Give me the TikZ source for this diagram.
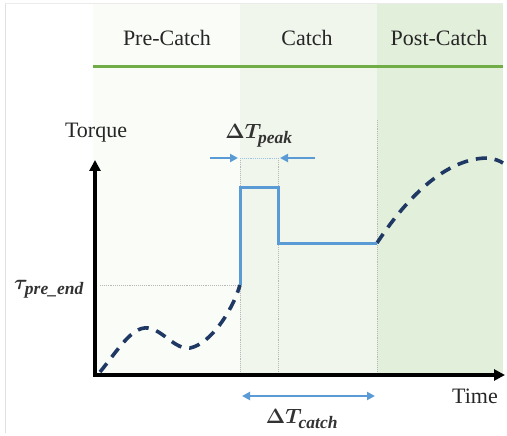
\documentclass[tikz,border=0pt]{standalone}
\usepackage{fontspec}
\setmainfont{Liberation Serif}
\usetikzlibrary{arrows.meta}
\definecolor{preBg}{HTML}{FAFCF7}
\definecolor{catchBg}{HTML}{F0F6EB}
\definecolor{postBg}{HTML}{E2EFDA}
\definecolor{phaseGreen}{HTML}{70AD47}
\definecolor{stepBlue}{HTML}{5B9BD5}
\definecolor{navy}{HTML}{1F3864}
\definecolor{guide}{HTML}{B8B8B8}
\newcommand{\subtxt}[1]{\mbox{\fontsize{17.5}{17}\selectfont\bfseries\itshape #1}}
\tikzset{
  lbl/.style={font=\fontsize{22}{26}\selectfont, text=black!85, inner sep=1pt},
  mlbl/.style={font=\fontsize{20}{24}\selectfont\boldmath, text=black!80, inner sep=1pt},
  guideline/.style={guide, densely dotted, line width=0.9pt},
  axisline/.style={line width=3.2pt, -{Triangle[length=11pt,width=11pt]}},
  bluestep/.style={stepBlue, line width=3pt, line join=miter},
  dashcurve/.style={navy, line width=3.6pt, dash pattern=on 11pt off 8pt},
  bluearrow/.style={stepBlue, line width=2.2pt, -{Triangle[length=8pt,width=8pt]}},
}
\begin{document}
\begin{tikzpicture}[x=1pt,y=-1pt]
\useasboundingbox (0,0) rectangle (507,436);
\fill[white] (0,0) rectangle (507,436);
\draw[black!12, line width=0.6pt] (5,3) -- (5,433);
\draw[black!8, line width=0.6pt] (5,3) -- (503,3);
% phase backgrounds
\fill[preBg] (93,4) rectangle (240,373);
\fill[catchBg] (240,4) rectangle (377,373);
\fill[postBg] (377,4) rectangle (503,373);
% phase line
\draw[phaseGreen, line width=3pt] (93,67) -- (503,67);
\node[lbl] (pre) at (167,38) {Pre-Catch};
\node[lbl] (catch) at (307,38) {Catch};
\node[lbl] (post) at (439,38) {Post-Catch};
% key coordinates
\coordinate (o) at (95,375);
\coordinate (ytop) at (95,160);
\coordinate (xend) at (505,375);
\coordinate (s0) at (240,285);
\coordinate (s1) at (240,188);
\coordinate (s2) at (278,188);
\coordinate (s3) at (278,243);
\coordinate (s4) at (377,243);
% guide lines
\draw[guideline] (240,158) -- (240,373);
\draw[guideline] (278,158) -- (278,373);
\draw[guideline] (377,120) -- (377,373);
\draw[guideline] (100,285) -- (s0);
\draw[stepBlue!60, densely dotted, line width=0.9pt] (240,158) -- (278,158);
% axes
\draw[axisline] (o) -- (ytop);
\draw[axisline] ([xshift=-1.6pt]o) -- (xend);
\node[lbl] (torque) at (96,133) {Torque};
\node[lbl] (time) at (475,396) {Time};
\node[mlbl] (tau) at (49,289) {$\tau_{\subtxt{pre\_end}}$};
% curves
\draw[dashcurve] (100,372) .. controls (118,350) and (132,326) .. (148,328)
  .. controls (163,330) and (175,350) .. (190,348)
  .. controls (210,344) and (232,312) .. (s0);
\draw[dashcurve] (s4) .. controls (412,190) and (450,158) .. (488,158)
  .. controls (495,159) and (500,161) .. (503,163);
\draw[bluestep] (s0) -- (s1) -- (s2) -- (s3) -- (s4);
% delta T peak
\coordinate (pl) at (210,158);
\coordinate (pr) at (315,158);
\draw[bluearrow] (pl) -- (238,158);
\draw[bluearrow] (pr) -- (280,158);
\node[mlbl] (dtpeak) at (259,136) {$\Delta T_{\subtxt{peak}}$};
% delta T catch
\coordinate (cl) at (242,396);
\coordinate (cr) at (375,396);
\draw[stepBlue, line width=2.2pt, {Triangle[length=8pt,width=8pt]}-{Triangle[length=8pt,width=8pt]}] (cl) -- (cr);
\node[mlbl] (dtcatch) at (302,419) {$\Delta T_{\subtxt{catch}}$};
\end{tikzpicture}
\end{document}
